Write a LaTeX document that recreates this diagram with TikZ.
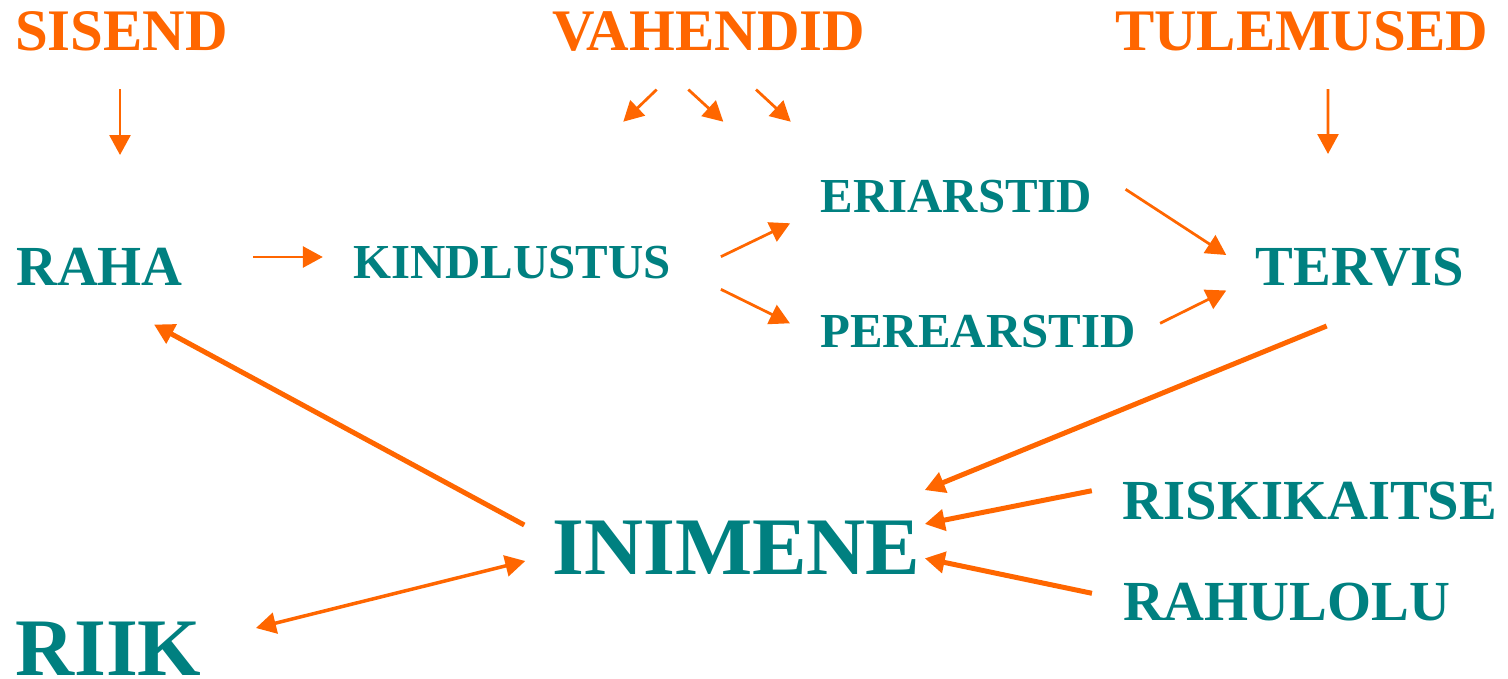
\documentclass[tikz,border=0pt]{standalone}
\usepackage{fontspec}
\setmainfont{Liberation Serif}
\usepackage{xcolor}
\definecolor{orgc}{HTML}{FF6600}
\definecolor{tealc}{HTML}{008080}
\usetikzlibrary{arrows.meta}
\tikzset{
  >={Triangle[length=4mm,width=4.2mm]},
  head/.style={font=\bfseries\fontsize{33.5}{36}\selectfont,text=orgc,inner sep=0pt},
  term/.style={font=\bfseries\fontsize{32.2}{34}\selectfont,text=tealc,inner sep=0pt},
  sub/.style={term,font=\bfseries\fontsize{27.8}{30}\selectfont},
  big/.style={term,font=\bfseries\fontsize{46.5}{50}\selectfont},
  ptr/.style={->,line width=0.55mm,color=orgc},
  ptrm/.style={ptr,line width=0.7mm},
  ptrw/.style={ptr,line width=1mm},
}

\begin{document}
\begin{tikzpicture}[x=0.2mm,y=-0.2mm]
  \useasboundingbox (0,0) rectangle (1508,679);
  % headings
  \node[head] (sisend) at (121.5,31.5) {SISEND};
  \node[head] (vahendid) at (708.5,31.5) {VAHENDID};
  \node[head] (tulemused) at (1301.5,31.5) {TULEMUSED};
  % chain
  \node[term] (raha) at (99.5,266.5) {RAHA};
  \node[sub] (kindl) at (512,262.5) {KINDLUSTUS};
  \node[sub] (eri) at (956.5,197) {ERIARSTID};
  \node[sub] (pere) at (978,332) {PEREARSTID};
  \node[term] (tervis) at (1360,267.5) {TERVIS};
  \node[big] (inimene) at (736.5,547.5) {INIMENE};
  \node[big] (riik) at (108.5,648.5) {RIIK};
  \node[term] (riski) at (1310,501.5) {RISKIKAITSE};
  \node[term] (rahul) at (1286.5,602.3) {RAHULOLU};
  % free arrow ends
  \coordinate (sisendtip) at (120,155);
  \coordinate (tulemtip) at (1328,154);
  \coordinate (va1) at (623.3,121.7);
  \coordinate (va2) at (723.3,121.7);
  \coordinate (va3) at (790.7,121.7);
  \draw[ptr] ([shift={(-1.5,37.5)}]sisend.south) -- (sisendtip);
  \draw[ptr] ([shift={(26.5,37.5)}]tulemused.south) -- (tulemtip);
  \foreach \dx/\t in {-51.8/va1,-20.2/va2,47.5/va3}
    \draw[ptr] ([shift={(\dx,37.8)}]vahendid.south) -- (\t);
  % connectors
  \draw[ptr] ([shift={(70,-9.5)}]raha.east) -- ([shift={(-30,-5.5)}]kindl.west);
  \draw[ptr] ([shift={(49.7,-5.8)}]kindl.east) -- ([shift={(-30.3,26.3)}]eri.west);
  \draw[ptr] ([shift={(49.7,26.8)}]kindl.east) -- ([shift={(-30.3,-8.7)}]pere.west);
  \draw[ptr] ([shift={(33,-7.7)}]eri.east) -- ([shift={(-29,-12.5)}]tervis.west);
  \draw[ptr] ([shift={(24.3,-8.7)}]pere.east) -- ([shift={(-29,23)}]tervis.west);
  \draw[ptrw] ([shift={(-33.3,39)}]tervis.south) -- ([shift={(4,-30.3)}]inimene.north east);
  \draw[ptrw] ([shift={(-30.7,-10.8)}]riski.west) -- ([shift={(4,-23.5)}]inimene.east);
  \draw[ptrw] ([shift={(-30.7,-9)}]rahul.west) -- ([shift={(4,10.8)}]inimene.east);
  \draw[ptrw] ([shift={(-28,-22.5)}]inimene.west) -- ([shift={(54.5,39)}]raha.south);
  \draw[ptrm,<->] ([shift={(54,-20.5)}]riik.east) -- ([shift={(-27,13.5)}]inimene.west);
\end{tikzpicture}
\end{document}
